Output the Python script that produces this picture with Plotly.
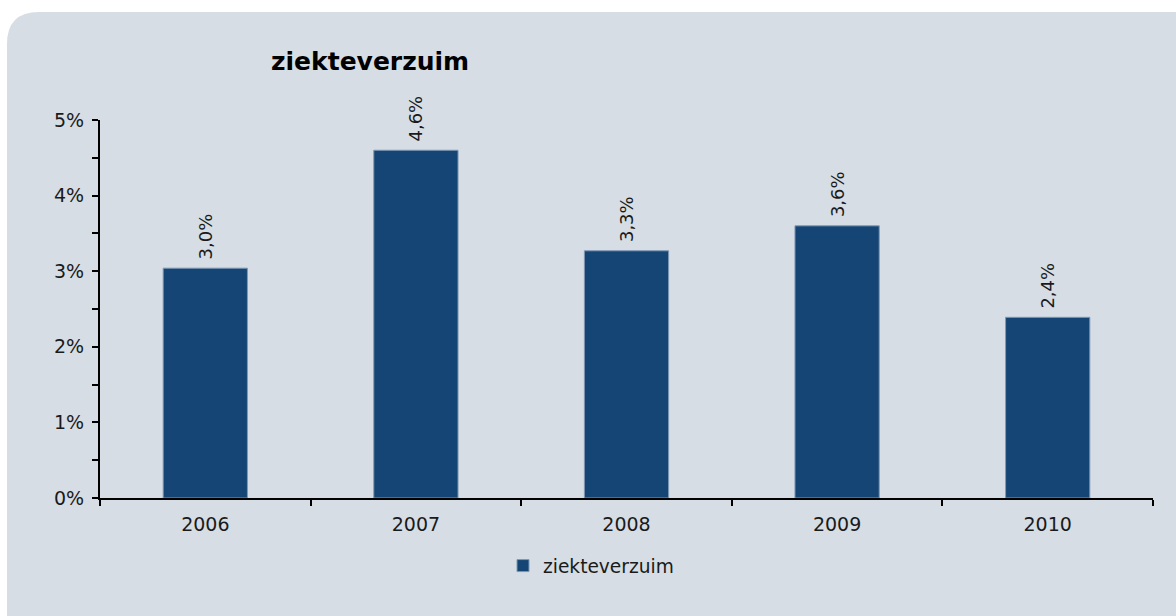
import plotly.graph_objects as go

years = ["2006", "2007", "2008", "2009", "2010"]
values = [3.04, 4.60, 3.27, 3.60, 2.39]
labels = ["3,0%", "4,6%", "3,3%", "3,6%", "2,4%"]
series_name = "ziekteverzuim"
title_text = "ziekteverzuim"

W, H = 1176, 616
L, R, T, B = 100, 1153, 120, 498
pw, ph = R - L, B - T

def px(x):
    return (x - L) / pw

def py(y):
    return (B - y) / ph

panel = "#d6dde4"
bar_color = "#154574"
font_fam = "DejaVu Sans, sans-serif"

fig = go.Figure()
fig.add_trace(go.Bar(
    x=years, y=values, name=series_name,
    marker=dict(color=bar_color, line=dict(color="#7f98b4", width=1)),
    text=["\u00a0" + t for t in labels], textposition="outside", textangle=-90,
    textfont=dict(size=18, color="#1a1a1a", family=font_fam),
    cliponaxis=False, width=0.4, showlegend=True,
))

# rounded panel
x0, x1 = px(7), px(1190)
y0, y1 = py(630), py(12)
rx, ry = 32 / pw, 32 / ph
path = (f"M {x0},{y0} L {x0},{y1 - ry} Q {x0},{y1} {x0 + rx},{y1} "
        f"L {x1},{y1} L {x1},{y0} Z")

fig.update_layout(
    width=W, height=H,
    margin=dict(l=L, r=W - R, t=T, b=H - B, pad=0),
    paper_bgcolor="white", plot_bgcolor=panel,
    font=dict(family=font_fam, size=18, color="#1a1a1a"),
    shapes=[dict(type="path", path=path, xref="paper", yref="paper",
                 fillcolor=panel, line=dict(width=0), layer="below")],
    annotations=[dict(text="<b>" + title_text + "</b>", x=px(370), y=py(62),
                      xref="paper", yref="paper", showarrow=False,
                      xanchor="center", yanchor="middle",
                      font=dict(size=25, color="black", family="DejaVu Sans, sans-serif"))],
    legend=dict(orientation="h", x=px(503), y=py(566), xanchor="left", yanchor="middle",
                bgcolor="rgba(0,0,0,0)", font=dict(size=18.6, color="#1a1a1a"),
                itemwidth=30),
    bargap=0.6,
)
fig.update_yaxes(range=[0, 5], dtick=1, ticksuffix="%", showgrid=False, zeroline=False,
                 showline=True, linecolor="black", linewidth=2,
                 ticks="outside", ticklen=6, tickwidth=2, tickcolor="black",
                 minor=dict(dtick=0.5, ticks="outside", ticklen=6, tickwidth=2, tickcolor="black"),
                 tickfont=dict(size=19), ticklabelstandoff=4)
fig.update_xaxes(showgrid=False, showline=True, linecolor="black", linewidth=2,
                 ticks="outside", tickson="boundaries", ticklen=6, tickwidth=2, tickcolor="black",
                 tickfont=dict(size=19), ticklabelstandoff=8)

fig.write_html("out.html", config={"displayModeBar": False},
               post_script="document.body.style.margin='0px';")
